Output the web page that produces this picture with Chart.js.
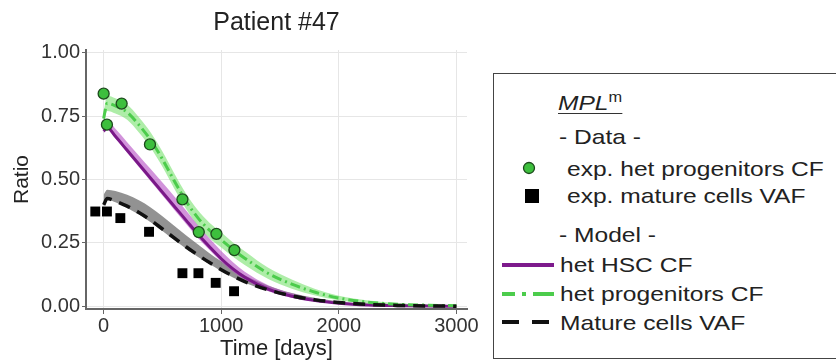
<!DOCTYPE html>
<html>
<head>
<meta charset="utf-8">
<script src="https://cdn.jsdelivr.net/npm/chart.js@4.4.1/dist/chart.umd.min.js"></script>
<style>
html, body { margin: 0; padding: 0; background: #fff; }
body { width: 836px; height: 362px; overflow: hidden; position: relative; font-family: "Liberation Sans", Arial, sans-serif; color: #222; }
#chartBox { position: absolute; left: 0; top: 0; width: 490px; height: 362px; }
#legend { position: absolute; left: 493px; top: 73px; width: 400px; height: 286px; border: 1.5px solid #444; box-sizing: border-box; }
.row { position: absolute; height: 30px; line-height: 30px; font-size: 21px; white-space: nowrap; transform: scaleX(1.17); transform-origin: left center; }
.mk { position: absolute; }
</style>
</head>
<body>
<div id="chartBox"><canvas id="patient-chart" width="490" height="362"></canvas></div>
<div id="legend">
  <div class="row" style="left:64px; top:13px;"><span style="font-style:italic; border-bottom:1.5px solid #333; line-height:21px; display:inline-block;">MPL<sup style="font-style:normal; font-size:14px;">m</sup></span></div>
  <div class="row" style="left:65px; top:48px;">- Data -</div>
  <svg class="mk" style="left:28px; top:87px;" width="14" height="14"><circle cx="7" cy="7" r="5.5" fill="#3dbf3d" stroke="#1d4a1d" stroke-width="1.3"/></svg>
  <div class="row" style="left:73px; top:80px;">exp. het progenitors CF</div>
  <svg class="mk" style="left:31px; top:115px;" width="14" height="14"><rect x="0" y="0" width="14" height="14" fill="#000"/></svg>
  <div class="row" style="left:73px; top:107px;">exp. mature cells VAF</div>
  <div class="row" style="left:65px; top:146px;">- Model -</div>
  <svg class="mk" style="left:7px; top:186px;" width="54" height="10"><line x1="1" y1="5" x2="53" y2="5" stroke="#7d1a8c" stroke-width="4"/></svg>
  <div class="row" style="left:66px; top:176px;">het HSC CF</div>
  <svg class="mk" style="left:7px; top:215px;" width="54" height="10"><line x1="1" y1="5" x2="53" y2="5" stroke="#4ccc4c" stroke-width="4" stroke-dasharray="13,7,4,7,30"/></svg>
  <div class="row" style="left:66px; top:205px;">het progenitors CF</div>
  <svg class="mk" style="left:7px; top:243px;" width="54" height="10"><line x1="1" y1="5" x2="53" y2="5" stroke="#111" stroke-width="4" stroke-dasharray="17,13,17"/></svg>
  <div class="row" style="left:66px; top:234px;">Mature cells VAF</div>
</div>
<script>
// model time grid (days)
var modelDays = [0, 30, 100, 200, 300, 400, 500, 600, 700, 800, 900, 1000, 1100, 1200, 1400, 1600, 1800, 2000, 2250, 2500, 2750, 3000];

// het HSC CF (model) with band
var hscCF     = [0.690, 0.705, 0.670, 0.615, 0.560, 0.505, 0.450, 0.395, 0.340, 0.285, 0.235, 0.188, 0.148, 0.115, 0.068, 0.040, 0.023, 0.013, 0.006, 0.003, 0.0015, 0.001];
var hscCFLow  = [0.682, 0.697, 0.661, 0.605, 0.549, 0.493, 0.437, 0.381, 0.326, 0.271, 0.222, 0.176, 0.137, 0.105, 0.060, 0.034, 0.019, 0.010, 0.004, 0.002, 0.001, 0.000];
var hscCFHigh = [0.715, 0.732, 0.700, 0.647, 0.594, 0.541, 0.488, 0.434, 0.379, 0.322, 0.269, 0.218, 0.174, 0.137, 0.084, 0.052, 0.031, 0.018, 0.009, 0.005, 0.002, 0.001];

// het progenitors CF (model) with band
var progCF     = [0.740, 0.800, 0.790, 0.765, 0.715, 0.655, 0.580, 0.495, 0.415, 0.350, 0.300, 0.262, 0.224, 0.190, 0.130, 0.088, 0.056, 0.033, 0.017, 0.009, 0.005, 0.003];
var progCFLow  = [0.715, 0.770, 0.760, 0.735, 0.685, 0.625, 0.550, 0.465, 0.385, 0.320, 0.270, 0.232, 0.196, 0.163, 0.108, 0.070, 0.043, 0.024, 0.011, 0.005, 0.002, 0.001];
var progCFHigh = [0.765, 0.830, 0.820, 0.795, 0.745, 0.685, 0.610, 0.525, 0.445, 0.380, 0.330, 0.292, 0.252, 0.217, 0.152, 0.106, 0.069, 0.042, 0.023, 0.013, 0.008, 0.005];

// mature cells VAF (model) with band
var matureVAF     = [0.400, 0.425, 0.415, 0.395, 0.370, 0.340, 0.305, 0.270, 0.235, 0.203, 0.173, 0.145, 0.120, 0.098, 0.065, 0.042, 0.026, 0.016, 0.008, 0.004, 0.002, 0.001];
var matureVAFLow  = [0.395, 0.420, 0.410, 0.388, 0.362, 0.332, 0.297, 0.262, 0.228, 0.196, 0.167, 0.139, 0.114, 0.093, 0.061, 0.039, 0.023, 0.014, 0.007, 0.003, 0.001, 0.000];
var matureVAFHigh = [0.440, 0.460, 0.455, 0.440, 0.418, 0.390, 0.355, 0.318, 0.280, 0.245, 0.210, 0.178, 0.150, 0.123, 0.082, 0.053, 0.033, 0.020, 0.010, 0.005, 0.002, 0.001];

// measured data
var expProgDays = [0, 28, 153, 394, 670, 809, 959, 1112];
var expProgCF   = [0.838, 0.716, 0.799, 0.638, 0.422, 0.293, 0.286, 0.222];
var expMatureDays = [-71, 28, 142, 386, 670, 806, 953, 1109];
var expMatureVAF  = [0.374, 0.374, 0.348, 0.294, 0.131, 0.131, 0.093, 0.060];

var xTicks = [0, 1000, 2000, 3000];
var yTicks = [0, 0.25, 0.5, 0.75, 1.0];

function pts(xs, ys) {
    return xs.map((x, i) => ({ x: x, y: ys[i] }));
}

var band = (ys, target, color, order) => ({
    data: pts(modelDays, ys), fill: target, backgroundColor: color,
    borderWidth: 0, pointRadius: 0, order: order, cubicInterpolationMode: 'monotone'
});
var edge = (ys, order) => ({
    data: pts(modelDays, ys), fill: false, borderWidth: 0, pointRadius: 0, order: order, cubicInterpolationMode: 'monotone'
});

// center the title over the plot area, not the canvas
var titleOverPlot = {
    id: 'titleOverPlot',
    afterLayout(chart) {
        if (chart.titleBlock) {
            chart.titleBlock.left = chart.chartArea.left;
            chart.titleBlock.right = chart.chartArea.right;
        }
    }
};

var ctx = document.getElementById('patient-chart').getContext('2d');

var patientChart = new Chart(ctx, {
    type: 'line',
    data: {
        datasets: [
            band(matureVAFHigh, 1, 'rgba(110,110,110,0.75)', 20),   // 0
            edge(matureVAFLow, 20),                                 // 1
            band(hscCFHigh, 3, 'rgba(180,75,195,0.6)', 19),        // 2
            edge(hscCFLow, 19),                                     // 3
            band(progCFHigh, 5, 'rgba(120,225,110,0.6)', 18),      // 4
            edge(progCFLow, 18),                                    // 5
            {
                data: pts(modelDays, hscCF), borderColor: '#7a1888', borderWidth: 3,
                pointRadius: 0, fill: false, order: 6, cubicInterpolationMode: 'monotone'
            },
            {
                data: pts(modelDays, progCF), borderColor: '#4ccc4c', borderWidth: 3,
                borderDash: [10, 4, 2, 4], pointRadius: 0, fill: false, order: 5, cubicInterpolationMode: 'monotone'
            },
            {
                data: pts(modelDays, matureVAF), borderColor: '#111', borderWidth: 3.5,
                borderDash: [12, 8], pointRadius: 0, fill: false, order: 4, cubicInterpolationMode: 'monotone'
            },
            {
                data: pts(expMatureDays, expMatureVAF), showLine: false, pointStyle: 'rect',
                pointRadius: 7, backgroundColor: '#000', borderColor: '#000', borderWidth: 0, order: 2
            },
            {
                data: pts(expProgDays, expProgCF), showLine: false, pointStyle: 'circle',
                pointRadius: 5.5, backgroundColor: '#3dbf3d', borderColor: '#1d4a1d', borderWidth: 1.3, order: 1
            }
        ]
    },
    options: {
        responsive: false,
        animation: false,
        layout: { padding: { left: 0, right: 23, top: 0, bottom: 0 } },
        plugins: {
            legend: { display: false },
            tooltip: { enabled: false },
            title: {
                display: true,
                text: 'Patient #47',
                color: '#222',
                font: { family: 'Liberation Sans', size: 25, weight: 'normal' },
                padding: { top: 8, bottom: 12 }
            }
        },
        scales: {
            x: {
                type: 'linear',
                min: -150,
                max: 3090,
                afterBuildTicks: (scale) => { scale.ticks = xTicks.map(v => ({ value: v })); },
                afterFit: (scale) => { scale.height = 53; },
                ticks: {
                    color: '#333',
                    padding: 0,
                    font: { family: 'Liberation Sans', size: 20 },
                    callback: (v) => String(v)
                },
                grid: { color: '#e6e6e6', lineWidth: 1, tickColor: '#666', tickLength: 5 },
                border: { color: '#666', width: 2 },
                title: {
                    display: true,
                    text: 'Time [days]',
                    color: '#222',
                    font: { family: 'Liberation Sans', size: 22 },
                    padding: { top: 0, bottom: 0 }
                }
            },
            y: {
                min: -0.01,
                max: 1.01,
                afterBuildTicks: (scale) => { scale.ticks = yTicks.map(v => ({ value: v })); },
                afterFit: (scale) => { scale.width = 86; },
                ticks: {
                    color: '#333',
                    padding: 2,
                    font: { family: 'Liberation Sans', size: 20 },
                    callback: (v) => v.toFixed(2)
                },
                grid: { color: '#e6e6e6', lineWidth: 1, tickColor: '#666', tickLength: 4 },
                border: { color: '#666', width: 2 },
                title: {
                    display: true,
                    text: 'Ratio',
                    color: '#222',
                    font: { family: 'Liberation Sans', size: 21 },
                    padding: { top: 10, bottom: 0 }
                }
            }
        }
    },
    plugins: [titleOverPlot]
});
</script>
</body>
</html>
